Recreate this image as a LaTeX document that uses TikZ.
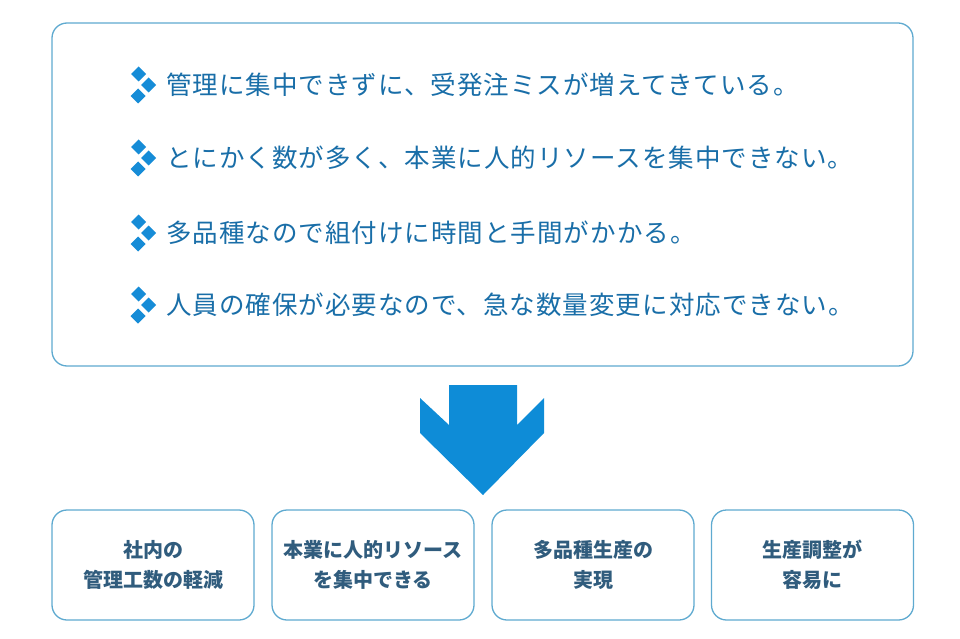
\documentclass[tikz,border=0pt]{standalone}
\usepackage{fontspec}
\newfontfamily\jpfont{Noto Sans CJK JP}
\newfontfamily\jpwide{Noto Sans CJK JP}[LetterSpace=4]
\usetikzlibrary{positioning}

\definecolor{frameline}{RGB}{95,170,208}
\definecolor{issuetext}{RGB}{25,110,168}
\definecolor{markblue}{RGB}{22,140,215}
\definecolor{arrowblue}{RGB}{14,140,215}
\definecolor{resulttext}{RGB}{48,92,125}

\tikzset{
  panel/.style={draw=frameline, line width=1.3pt, rounded corners=15pt, fill=white},
  issue/.style={font=\jpwide\fontsize{25.5}{30}\selectfont, text=issuetext, anchor=west, inner sep=0pt},
  result/.style={panel, minimum width=202pt, minimum height=110pt, align=center,
    font=\jpfont\bfseries\fontsize{20}{30}\selectfont, text=resulttext},
  diamonds/.pic={
    \foreach \dx/\dy in {-27.5/-11, -17.5/0, -28/11}
      \fill[markblue] (\dx-7.5,\dy) -- (\dx,\dy-7.5) -- (\dx+7.5,\dy) -- (\dx,\dy+7.5) -- cycle;
  }
}

\begin{document}
\begin{tikzpicture}[x=1pt, y=-1pt]

\useasboundingbox (0,0) rectangle (960,639);

% --- Upper frame with the issues ---
\node[panel, minimum width=861pt, minimum height=343pt] (frame) at (482.5,194.5) {};

\foreach \n/\y/\txt in {
  1/85/管理に集中できずに、受発注ミスが増えてきている。,
  2/158/とにかく数が多く、本業に人的リソースを集中できない。,
  3/233/多品種なので組付けに時間と手間がかかる。,
  4/305/人員の確保が必要なので、急な数量変更に対応できない。} {
  \pic at (166,\y) {diamonds};
  \node[issue] (issue\n) at (166,\y) {\txt};
}

% --- Big arrow ---
\fill[arrowblue] (449,385) -- (517,385) -- (517,425) -- (544,398) -- (544,433)
  -- (483,495) -- (420,433) -- (420,398) -- (449,425) -- cycle;

% --- Results ---
\foreach \n/\x/\txt in {
  1/153/{社内の\\管理工数の軽減},
  2/373/{本業に人的リソース\\を集中できる},
  3/593/{多品種生産の\\実現},
  4/812.5/{生産調整が\\容易に}} {
  \node[result] (result\n) at (\x,565) {\txt};
}

\end{tikzpicture}
\end{document}
